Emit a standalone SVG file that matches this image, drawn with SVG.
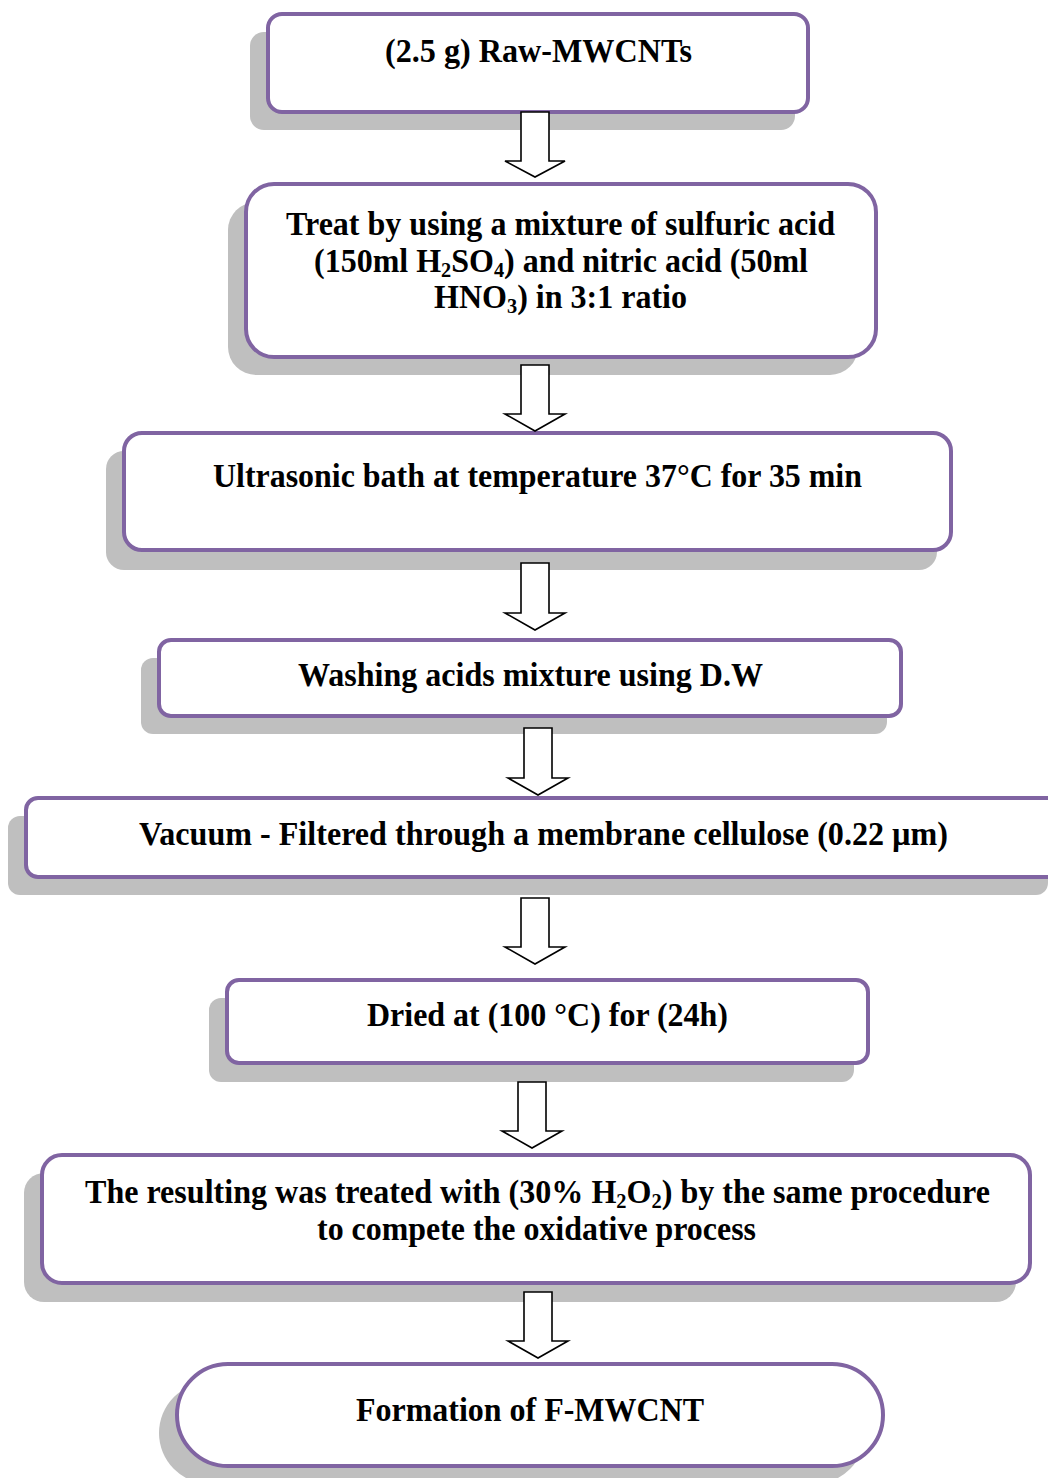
<svg xmlns="http://www.w3.org/2000/svg" width="1048" height="1478" viewBox="0 0 1048 1478">
<style>
.sh{fill:#bfbfbf}
.bx{fill:#fff;stroke:#8064a2;stroke-width:4}
.t{font-family:'Liberation Serif','Times New Roman',serif;font-weight:bold;font-size:33px;fill:#000}
.sub{font-size:21px}
.ar{fill:#fff;stroke:#000;stroke-width:1.6;stroke-linejoin:miter}
</style>
<rect width="1048" height="1478" fill="#fff"/>
<g id="n1">
<rect class="sh" x="250" y="32" width="545" height="98" rx="14"/>
<rect class="bx" x="268" y="14" width="540" height="98" rx="14"/>
<text class="t" x="385" y="62" textLength="307" lengthAdjust="spacingAndGlyphs">(2.5 g) Raw-MWCNTs</text>
</g>
<g id="n2">
<rect class="sh" x="228" y="202" width="630" height="173" rx="28"/>
<rect class="bx" x="246" y="184" width="630" height="173" rx="28"/>
<text class="t" x="286" y="235" textLength="549" lengthAdjust="spacingAndGlyphs">Treat by using a mixture of sulfuric acid</text>
<text class="t" x="314" y="272" textLength="494" lengthAdjust="spacingAndGlyphs">(150ml H<tspan class="sub" dy="5">2</tspan><tspan dy="-5">SO</tspan><tspan class="sub" dy="5">4</tspan><tspan dy="-5">) and nitric acid (50ml</tspan></text>
<text class="t" x="434" y="308" textLength="253" lengthAdjust="spacingAndGlyphs">HNO<tspan class="sub" dy="5">3</tspan><tspan dy="-5">) in 3:1 ratio</tspan></text>
</g>
<g id="n3">
<rect class="sh" x="106" y="451" width="831" height="119" rx="18"/>
<rect class="bx" x="124" y="433" width="827" height="117" rx="18"/>
<text class="t" x="213" y="487" textLength="649" lengthAdjust="spacingAndGlyphs">Ultrasonic bath at temperature 37°C for 35 min</text>
</g>
<g id="n4">
<rect class="sh" x="141" y="658" width="746" height="76" rx="12"/>
<rect class="bx" x="159" y="640" width="742" height="76" rx="12"/>
<text class="t" x="298" y="686" textLength="465" lengthAdjust="spacingAndGlyphs">Washing acids mixture using D.W</text>
</g>
<g id="n5">
<rect class="sh" x="8" y="816" width="1040" height="79" rx="12"/>
<rect class="bx" x="26" y="798" width="1040" height="79" rx="12"/>
<text class="t" x="139" y="845" textLength="809" lengthAdjust="spacingAndGlyphs">Vacuum - Filtered through a membrane cellulose (0.22 µm)</text>
</g>
<g id="n6">
<rect class="sh" x="209" y="998" width="645" height="84" rx="12"/>
<rect class="bx" x="227" y="980" width="641" height="83" rx="12"/>
<text class="t" x="367" y="1026" textLength="361" lengthAdjust="spacingAndGlyphs">Dried at (100 °C) for (24h)</text>
</g>
<g id="n7">
<rect class="sh" x="24" y="1173" width="992" height="129" rx="20"/>
<rect class="bx" x="42" y="1155" width="988" height="128" rx="20"/>
<text class="t" x="85" y="1203" textLength="905" lengthAdjust="spacingAndGlyphs">The resulting was treated with (30% H<tspan class="sub" dy="5">2</tspan><tspan dy="-5">O</tspan><tspan class="sub" dy="5">2</tspan><tspan dy="-5">) by the same procedure</tspan></text>
<text class="t" x="317" y="1240" textLength="439" lengthAdjust="spacingAndGlyphs">to compete the oxidative process</text>
</g>
<g id="n8">
<rect class="sh" x="159" y="1382" width="706" height="102" rx="51"/>
<rect class="bx" x="177" y="1364" width="706" height="102" rx="51"/>
<text class="t" x="356" y="1421" textLength="348" lengthAdjust="spacingAndGlyphs">Formation of F-MWCNT</text>
</g>
<g id="connectors">
<path class="ar" d="M521,112 H549 V161 H565 L535,177 L505,161 H521 Z"/>
<path class="ar" d="M521,365 H549 V414 H565 L535,431 L505,414 H521 Z"/>
<path class="ar" d="M521,563 H549 V613 H565 L535,630 L505,613 H521 Z"/>
<path class="ar" d="M524,728 H552 V778 H568 L538,795 L508,778 H524 Z"/>
<path class="ar" d="M521,898 H549 V947 H565 L535,964 L505,947 H521 Z"/>
<path class="ar" d="M518,1082 H546 V1131 H562 L532,1148 L502,1131 H518 Z"/>
<path class="ar" d="M524,1292 H552 V1341 H568 L538,1358 L508,1341 H524 Z"/>
</g>
</svg>
